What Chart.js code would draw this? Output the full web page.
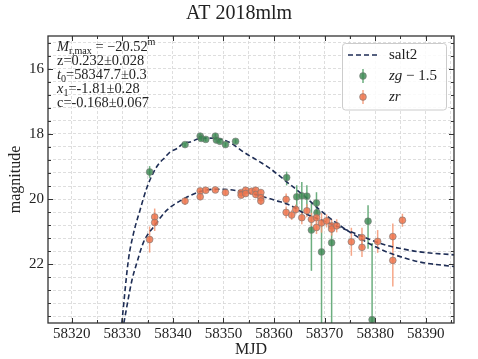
<!DOCTYPE html>
<html><head><meta charset="utf-8">
<script src="https://cdn.jsdelivr.net/npm/chart.js@4.4.1/dist/chart.umd.min.js"></script>
<style>html,body{margin:0;padding:0;background:#fff}#wrap{width:478px;height:359px}</style>
</head><body><div id="wrap"><canvas id="c" width="478" height="359"></canvas></div>
<script>
const titleText = 'AT 2018mlm';
const xTitle = 'MJD';
const yTitle = 'magnitude';
const xMajor = [58320, 58330, 58340, 58350, 58360, 58370, 58380, 58390];
const xMinorStep = 5;
const yMajor = [16, 18, 20, 22];
const yMinorStep = 0.4;
const xRange = [58315.3, 58395.6];
const yRange = [15.0, 23.8];

// zg - 1.5 photometry
const gMJD  = [58335.4, 58342.4, 58345.4, 58345.6, 58346.5, 58348.4, 58348.6, 58349.3, 58350.4, 58352.4,
               58362.5, 58364.5, 58365.5, 58366.5, 58368.4, 58368.5, 58367.4, 58369.4, 58371.4, 58378.6, 58379.4];
const gMag  = [19.17, 18.33, 18.07, 18.14, 18.17, 18.07, 18.19, 18.23, 18.33, 18.23,
               19.34, 19.93, 19.90, 19.91, 20.12, 20.42, 20.95, 21.62, 21.34, 20.68, 23.70];
const gErrLo = [0.18, 0.06, 0.08, 0.08, 0.06, 0.08, 0.08, 0.06, 0.06, 0.06,
                0.18, 0.35, 0.42, 0.33, 0.33, 0.20, 0.86, 0.97, 0.45, 0.49, 2.35];
const gErrHi = [0.18, 0.06, 0.08, 0.08, 0.06, 0.08, 0.08, 0.06, 0.06, 0.06,
                0.24, 0.35, 0.55, 0.40, 0.33, 0.20, 1.25, 3.00, 3.00, 0.84, 1.00];

// zr photometry
const rMJD  = [58335.4, 58336.4, 58336.4, 58342.4, 58345.4, 58345.4, 58346.5, 58348.4, 58350.4, 58353.5,
               58353.5, 58354.4, 58354.4, 58355.6, 58356.4, 58356.4, 58357.4, 58357.4, 58357.4, 58362.4,
               58362.4, 58363.5, 58364.3, 58365.5, 58366.5, 58367.4, 58368.4, 58368.4, 58369.4, 58370.4,
               58371.4, 58371.4, 58372.4, 58375.3, 58377.4, 58377.4, 58380.5, 58383.5, 58383.5, 58385.4];
const rMag  = [21.24, 20.55, 20.72, 20.06, 19.75, 19.93, 19.73, 19.72, 19.80, 19.80,
               19.88, 19.73, 19.83, 19.76, 19.73, 19.86, 19.80, 19.96, 20.06, 20.01,
               20.41, 20.49, 20.32, 20.57, 20.36, 20.62, 20.57, 20.87, 20.73, 20.67,
               20.82, 20.92, 20.82, 21.31, 21.18, 21.48, 21.30, 21.15, 21.88, 20.65];
const rErr  = [0.40, 0.26, 0.26, 0.12, 0.08, 0.10, 0.08, 0.06, 0.08, 0.08,
               0.08, 0.08, 0.08, 0.08, 0.10, 0.10, 0.10, 0.10, 0.12, 0.18,
               0.18, 0.15, 0.15, 0.20, 0.20, 0.20, 0.20, 0.20, 0.30, 0.20,
               0.20, 0.20, 0.20, 0.43, 0.30, 0.30, 0.35, 0.40, 0.80, 0.20];

// salt2 model curves
const modelGMJD = [58329.9, 58331.2, 58332.2, 58333.5, 58334.9, 58336.8, 58338.5, 58339.5, 58340.8, 58342.1,
                   58343.4, 58345.4, 58347.0, 58348.7, 58351.3, 58353.9, 58357.2, 58359.2, 58362.5, 58365.8,
                   58369.1, 58372.4, 58375.7, 58379.0, 58382.3, 58385.5, 58388.8, 58395.6];
const modelGMag = [23.80, 21.87, 21.06, 20.34, 19.63, 19.01, 18.71, 18.55, 18.45, 18.29,
                   18.25, 18.14, 18.13, 18.14, 18.27, 18.55, 18.86, 19.06, 19.47, 19.88,
                   20.34, 20.74, 21.08, 21.38, 21.62, 21.79, 21.93, 22.07];
const modelRMJD = [58330.3, 58331.9, 58332.9, 58334.2, 58336.2, 58338.8, 58342.1, 58345.4, 58348.0, 58350.0,
                   58352.6, 58355.3, 58357.9, 58360.5, 58363.2, 58365.8, 58369.1, 58372.4, 58375.7, 58379.0,
                   58382.3, 58385.5, 58388.8, 58395.6];
const modelRMag = [23.80, 22.49, 21.94, 21.32, 20.85, 20.34, 20.00, 19.77, 19.70, 19.70,
                   19.74, 19.82, 19.93, 20.05, 20.19, 20.42, 20.63, 20.83, 21.03, 21.24,
                   21.42, 21.53, 21.62, 21.71];

const annotLines = [
  [{t:'M',it:true},{t:'r,max',sub:true},{t:' = \u221220.52'},{t:'m',sup:true}],
  [{t:'z=0.232\u00b10.028'}],
  [{t:'t',it:true},{t:'0',sub:true},{t:'=58347.7\u00b10.3'}],
  [{t:'x',it:true},{t:'1',sub:true},{t:'=-1.81\u00b10.28'}],
  [{t:'c=-0.168\u00b10.067'}]
];
const legendLabels = ['salt2', 'zg \u2212 1.5', 'zr'];

const FONT = "'Liberation Serif','DejaVu Serif',serif";
const TXT = '#222';
const GREEN = 'rgba(58,135,80,0.8)';
const GREEN_BAR = 'rgba(82,160,105,0.85)';
const ORANGE = 'rgba(238,118,78,0.85)';
const ORANGE_BAR = 'rgba(245,150,115,0.85)';
const NAVY = '#1e2d55';
const EDGE = 'rgba(120,120,120,0.75)';

function range(a, b, s){ const out=[]; for(let v=a; v<=b+1e-9; v+=s) out.push(Math.round(v*10)/10); return out; }
const xTickVals = range(58320, 58395, xMinorStep);
const yTickVals = range(15.2, 23.6, yMinorStep);

const pts = (xs, ys) => xs.map((x,i)=>({x, y: ys[i]}));

function drawRich(ctx, x, y, segs, size){
  segs.forEach(s=>{
    const small = s.sub || s.sup;
    const fs = small ? size*0.7 : size;
    ctx.font = (s.it ? 'italic ' : '') + fs + 'px ' + FONT;
    const dy = s.sub ? size*0.28 : (s.sup ? -size*0.33 : 0);
    ctx.fillText(s.t, x, y + dy);
    x += ctx.measureText(s.t).width;
  });
}

const errorBars = {
  id: 'errorBars',
  beforeDatasetsDraw(chart){
    const {ctx, chartArea:a, scales:{x, y}} = chart;
    ctx.save();
    ctx.beginPath(); ctx.rect(a.left, a.top, a.right-a.left, a.bottom-a.top); ctx.clip();
    ctx.lineWidth = 1.5;
    const draw = (xs, ys, lo, hi, col) => {
      ctx.strokeStyle = col;
      xs.forEach((v,i)=>{
        const px = x.getPixelForValue(v);
        ctx.beginPath();
        ctx.moveTo(px, y.getPixelForValue(ys[i]-lo[i]));
        ctx.lineTo(px, y.getPixelForValue(ys[i]+hi[i]));
        ctx.stroke();
      });
    };
    draw(gMJD, gMag, gErrLo, gErrHi, GREEN_BAR);
    draw(rMJD, rMag, rErr, rErr, ORANGE_BAR);
    ctx.restore();
  }
};

const frameAndText = {
  id: 'frameAndText',
  afterDraw(chart){
    const {ctx, chartArea:a, scales:{x, y}} = chart;
    ctx.save();
    ctx.strokeStyle = '#333';
    ctx.lineWidth = 1;
    const line=(x1,y1,x2,y2)=>{ctx.beginPath();ctx.moveTo(x1,y1);ctx.lineTo(x2,y2);ctx.stroke();};
    xTickVals.forEach(v=>{
      const px = Math.round(x.getPixelForValue(v))+0.5;
      const L = xMajor.includes(v) ? 5 : 3;
      line(px, a.bottom, px, a.bottom-L);
      line(px, a.top, px, a.top+L);
    });
    yTickVals.forEach(v=>{
      const py = Math.round(y.getPixelForValue(v))+0.5;
      const L = yMajor.includes(v) ? 5 : 3;
      line(a.left, py, a.left+L, py);
      line(a.right, py, a.right-L, py);
    });
    ctx.lineWidth = 1.3;
    ctx.strokeRect(a.left, a.top, a.right-a.left, a.bottom-a.top);

    // annotation
    ctx.fillStyle = TXT;
    ctx.textBaseline = 'middle';
    ctx.textAlign = 'left';
    const lineY = [47, 61.5, 75.5, 89.5, 103];
    annotLines.forEach((segs,i)=>drawRich(ctx, a.left+9, lineY[i], segs, 14.4));

    // legend
    const lx=342.5, ly=43.5, lw=104, lh=66.5;
    ctx.fillStyle='rgba(255,255,255,0.85)';
    ctx.strokeStyle='#cccccc';
    ctx.lineWidth=1;
    ctx.beginPath(); ctx.roundRect(lx, ly, lw, lh, 3); ctx.fill(); ctx.stroke();
    ctx.strokeStyle = NAVY; ctx.lineWidth=1.6; ctx.setLineDash([5,3]);
    line(348, 55, 378, 55);
    ctx.setLineDash([]);
    const marker=(mx,my,fill,bar)=>{
      ctx.strokeStyle=bar; ctx.lineWidth=1.5; line(mx,my-7,mx,my+7);
      ctx.beginPath(); ctx.arc(mx,my,3.4,0,Math.PI*2); ctx.fillStyle=fill; ctx.fill();
      ctx.strokeStyle=EDGE; ctx.lineWidth=0.8; ctx.stroke();
    };
    marker(363, 76, GREEN, GREEN_BAR);
    marker(363, 97, ORANGE, ORANGE_BAR);
    ctx.fillStyle = TXT;
    drawRich(ctx, 389, 55, [{t:legendLabels[0]}], 15);
    drawRich(ctx, 389, 76, [{t:'zg',it:true},{t:' \u2212 1.5'}], 15);
    drawRich(ctx, 389, 97, [{t:'zr',it:true}], 15);
    ctx.restore();
  }
};

new Chart(document.getElementById('c'), {
  type: 'scatter',
  data: {
    datasets: [
      { label: 'zr', data: pts(rMJD, rMag), backgroundColor: ORANGE, borderColor: EDGE, borderWidth: 0.8, pointRadius: 3.4, pointHoverRadius: 3.4 },
      { label: 'zg - 1.5', data: pts(gMJD, gMag), backgroundColor: GREEN, borderColor: EDGE, borderWidth: 0.8, pointRadius: 3.4, pointHoverRadius: 3.4 },
      { label: 'salt2', data: pts(modelGMJD, modelGMag), showLine: true, pointRadius: 0, borderColor: NAVY, borderWidth: 1.6, borderDash: [5,3], tension: 0.4, cubicInterpolationMode: 'monotone', fill: false },
      { label: 'salt2 r', data: pts(modelRMJD, modelRMag), showLine: true, pointRadius: 0, borderColor: NAVY, borderWidth: 1.6, borderDash: [5,3], tension: 0.4, cubicInterpolationMode: 'monotone', fill: false }
    ]
  },
  options: {
    responsive: false,
    animation: false,
    devicePixelRatio: 1,
    layout: { padding: 0 },
    plugins: {
      legend: { display: false },
      tooltip: { enabled: false },
      title: { display: true, text: titleText, color: TXT, font: { family: FONT, size: 20, weight: 'normal' }, padding: { top: 2, bottom: 10 } }
    },
    scales: {
      x: {
        type: 'linear', position: 'bottom', min: xRange[0], max: xRange[1],
        afterBuildTicks: s => { s.ticks = xTickVals.map(v => ({ value: v })); },
        afterFit: s => { s.height = 36; },
        ticks: { autoSkip: false, maxRotation: 0, padding: 2, color: TXT, font: { family: FONT, size: 15 },
                 callback: v => xMajor.includes(v) ? String(v) : '' },
        grid: { color: '#d6d6d6', lineWidth: 0.8, drawTicks: false },
        border: { display: false, dash: [3, 2] },
        title: { display: true, text: xTitle, color: TXT, font: { family: FONT, size: 16 }, padding: { top: 0, bottom: 0 } }
      },
      y: {
        type: 'linear', position: 'left', reverse: true, min: yRange[0], max: yRange[1],
        afterBuildTicks: s => { s.ticks = yTickVals.map(v => ({ value: v })); },
        afterFit: s => { s.width = 48; },
        ticks: { autoSkip: false, padding: 4, color: TXT, font: { family: FONT, size: 15 },
                 callback: v => yMajor.includes(Math.round(v*10)/10) ? String(Math.round(v)) : '' },
        grid: { color: '#d6d6d6', lineWidth: 0.8, drawTicks: false },
        border: { display: false, dash: [3, 2] },
        title: { display: true, text: yTitle, color: TXT, font: { family: FONT, size: 16 }, padding: { top: 6, bottom: 0 } }
      },
      y2: {
        type: 'linear', axis: 'y', position: 'right', min: 0, max: 1,
        afterFit: s => { s.width = 24; },
        ticks: { display: false }, grid: { display: false }, border: { display: false }
      }
    }
  },
  plugins: [errorBars, frameAndText]
});
</script>
</body></html>
